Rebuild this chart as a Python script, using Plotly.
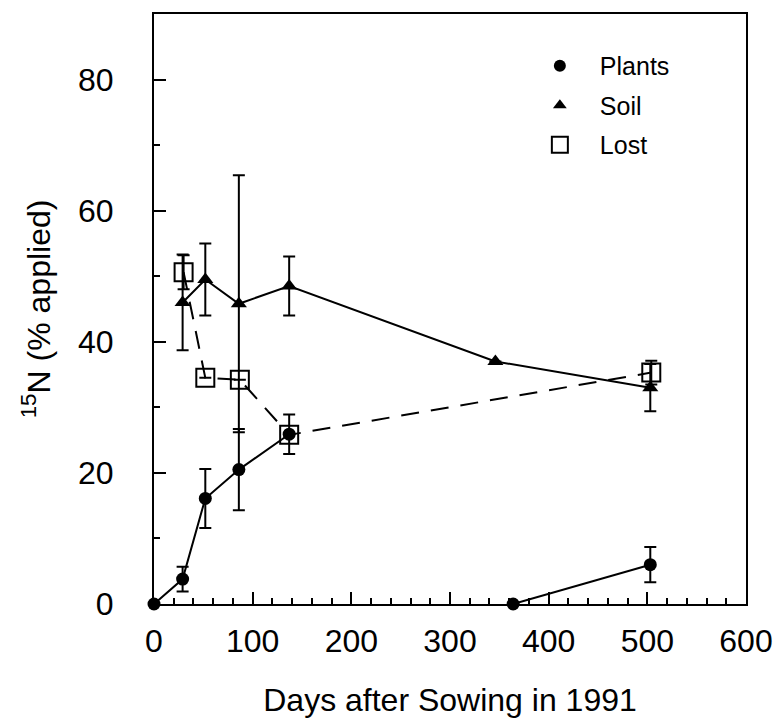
import plotly.graph_objects as go

# ---- data ----
plants_days = [0, 29, 52, 86, 137, 364, 503]
plants_vals = [0, 3.8, 16.1, 20.5, 25.9, 0, 6.0]
plants_err = [0, 1.9, 4.5, 6.2, 3.0, 0, 2.7]
plants_break = 5  # no line between 137 and 364 days

soil_days = [29, 52, 86, 137, 346, 503]
soil_vals = [46.0, 49.5, 45.8, 48.5, 37.0, 33.0]
soil_err = [7.3, 5.5, 19.6, 4.5, 0, 3.6]

lost_days = [30, 52, 87, 137, 504]
lost_vals = [50.6, 34.5, 34.2, 25.8, 35.3]
lost_err = [2.6, 0, 0, 0, 1.8]

x_ticks = [0, 100, 200, 300, 400, 500, 600]
y_ticks = [0, 20, 40, 60, 80]

FONT = "Liberation Sans"
fig = go.Figure()

err_style = dict(type="data", thickness=2, width=6, color="black")

def seg(arr, a, b):
    return arr[a:b]

# Plants (two unconnected segments)
for a, b in [(0, plants_break), (plants_break, len(plants_days))]:
    fig.add_trace(go.Scatter(
        x=seg(plants_days, a, b), y=seg(plants_vals, a, b),
        mode="lines+markers",
        line=dict(color="black", width=2),
        marker=dict(symbol="circle", size=13, color="black"),
        error_y=dict(array=seg(plants_err, a, b), **err_style),
        showlegend=False, cliponaxis=False))

# Soil
fig.add_trace(go.Scatter(
    x=soil_days, y=soil_vals, mode="lines+markers",
    line=dict(color="black", width=2),
    marker=dict(symbol="triangle-up", size=14, color="black"),
    error_y=dict(array=soil_err, **err_style),
    showlegend=False, cliponaxis=False))

# Lost
fig.add_trace(go.Scatter(
    x=lost_days, y=lost_vals, mode="lines+markers",
    line=dict(color="black", width=2, dash="18px,12px"),
    marker=dict(symbol="square-open", size=18, color="black", line=dict(width=2)),
    error_y=dict(array=lost_err, **err_style),
    showlegend=False, cliponaxis=False))

# legend entries (markers only)
for name, sym, sz in [("Plants", "circle", 12), ("Soil", "triangle-up", 12), ("Lost", "square-open", 16)]:
    fig.add_trace(go.Scatter(
        x=[None], y=[None], mode="markers", name=name, legendgroup=name,
        marker=dict(symbol=sym, size=sz, color="black", line=dict(width=2) if sym == "square-open" else None)))

axis_common = dict(
    showgrid=False, zeroline=False, showline=True, linecolor="black", linewidth=2,
    mirror=True, ticks="inside", ticklen=12, tickwidth=2, tickcolor="black",
    tickfont=dict(family=FONT, size=32, color="black"), automargin=False,
)

fig.update_layout(
    width=777, height=721,
    margin=dict(l=154, r=31, t=14, b=117),
    paper_bgcolor="white", plot_bgcolor="white",
    xaxis=dict(range=[0, 600], tickvals=x_ticks, ticklabelstandoff=8,
               minor=dict(dtick=20, ticks="inside", ticklen=6, tickwidth=2, tickcolor="black"),
               title=dict(text="Days after Sowing in 1991", font=dict(family=FONT, size=32, color="black"), standoff=30),
               **axis_common),
    yaxis=dict(range=[0, 90], tickvals=y_ticks, ticklabelstandoff=32,
               minor=dict(dtick=10, ticks="inside", ticklen=6, tickwidth=2, tickcolor="black"),
               title=dict(text="<sup>15</sup>N (% applied)", font=dict(family=FONT, size=32, color="black"), standoff=18),
               **axis_common),
    legend=dict(x=0.618, y=0.951, xanchor="left", yanchor="top", bgcolor="rgba(0,0,0,0)",
                font=dict(family=FONT, size=25, color="black"), tracegroupgap=4,
                itemwidth=70),
    showlegend=True,
)

fig.write_html("out.html")
